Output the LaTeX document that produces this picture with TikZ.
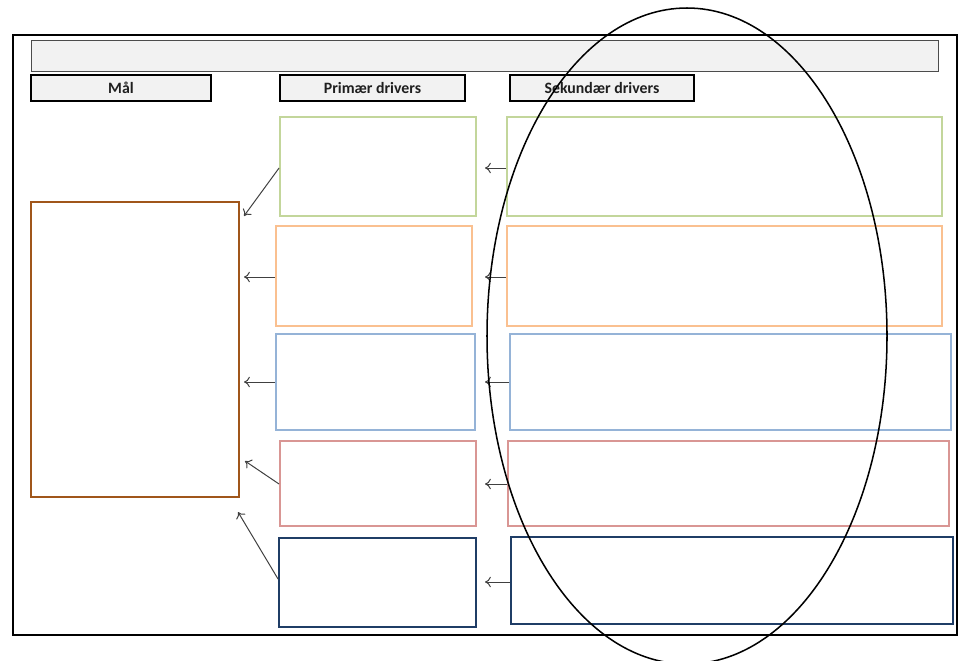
\documentclass[tikz,border=0pt]{standalone}
\usepackage{fontspec}
\setmainfont{Carlito}
\usetikzlibrary{fit,arrows.meta}

\definecolor{drvgreen}{HTML}{C3D69B}
\definecolor{drvorange}{HTML}{FAC090}
\definecolor{drvblue}{HTML}{95B3D7}
\definecolor{drvred}{HTML}{D99694}
\definecolor{drvnavy}{HTML}{1F3D66}
\definecolor{malbrown}{HTML}{A0561A}
\definecolor{hdrgray}{HTML}{F2F2F2}

\tikzset{
	box/.style = {draw, line width=1.6pt, inner sep=0pt},
	header/.style = {draw, line width=1.9pt, fill=hdrgray, inner sep=0pt},
	hdrtext/.style = {font=\fontsize{13.5}{15}\selectfont\bfseries, text=black!88},
	link/.style = {-{To[length=5pt,width=9pt]}, draw=black!75, line width=0.85pt}
}

\begin{document}
\begin{tikzpicture}[x=0.3mm, y=-0.3mm]
	\useasboundingbox (0,0) rectangle (961,660);

	% frame and title bar
	\draw[line width=1.2pt] (13,35) rectangle (957,635);
	\node[draw=black!70, line width=0.8pt, fill=hdrgray, inner sep=0pt, fit={(31,40) (938,71)}] (title) {};

	% column headers
	\node[header, fit={(31,75) (211,101)}] (malhead) {};
	\node[hdrtext] at (malhead.center) {Mål};
	\node[header, fit={(280,75) (465,101)}] (primhead) {};
	\node[hdrtext] at (primhead.center) {Primær drivers};
	\node[header, fit={(510,75) (694,101)}] (sekhead) {};
	\node[hdrtext] at (sekhead.center) {Sekundær drivers};

	% goal
	\node[box, draw=malbrown, fit={(31,202) (239,497)}] (mal) {};

	% primary drivers
	\node[box, draw=drvgreen, fit={(280,117) (476,216)}] (p1) {};
	\node[box, draw=drvorange, fit={(276,226) (472,326)}] (p2) {};
	\node[box, draw=drvblue, fit={(276,334) (475,430)}] (p3) {};
	\node[box, draw=drvred, fit={(280,441) (476,526)}] (p4) {};
	\node[box, draw=drvnavy, fit={(279,538) (476,627)}] (p5) {};

	% secondary drivers
	\node[box, draw=drvgreen, fit={(507,117) (942,216)}] (s1) {};
	\node[box, draw=drvorange, fit={(507,226) (942,326)}] (s2) {};
	\node[box, draw=drvblue, fit={(510,334) (951,430)}] (s3) {};
	\node[box, draw=drvred, fit={(508,441) (949,526)}] (s4) {};
	\node[box, draw=drvnavy, fit={(511,537) (953,624)}] (s5) {};

	% secondary -> primary
	\draw[link] (s1.west |- 0,168) -- (485,168);
	\draw[link] (s2.west |- 0,277) -- (485,277);
	\draw[link] (s3.west |- 0,382) -- (485,382);
	\draw[link] (s4.west |- 0,484) -- (485,484);
	\draw[link] (s5.west |- 0,582) -- (485,582);

	% primary -> goal
	\coordinate (m1) at (244,216);
	\coordinate (m4) at (245,461);
	\coordinate (m5) at (238,512);
	\draw[link] (p1.west |- 0,168) -- (m1);
	\draw[link] (p2.west |- 0,277) -- (244,277);
	\draw[link] (p3.west |- 0,382) -- (244,382);
	\draw[link] (p4.west |- 0,484) -- (m4);
	\draw[link] (p5.west |- 0,579) -- (m5);

	% the ring round the secondary drivers
	\draw[line width=1.3pt] (687,336) ellipse (200 and 328);
\end{tikzpicture}
\end{document}
